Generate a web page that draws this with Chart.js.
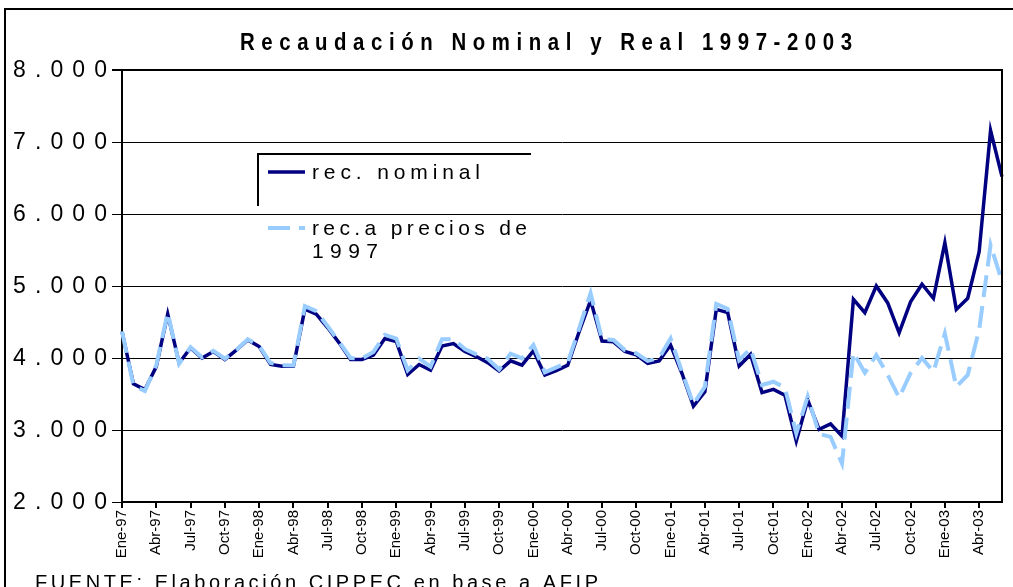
<!DOCTYPE html>
<html>
<head>
<meta charset="utf-8">
<script src="https://cdn.jsdelivr.net/npm/chart.js"></script>
<style>
  body { margin: 0; background: #fff; }
  #wrap { width: 1013px; height: 587px; position: relative; }
</style>
</head>
<body>
<div id="wrap"><canvas id="recChart"></canvas></div>
<script>
'use strict';

// meses y años del eje x
const meses = ['Ene', 'Feb', 'Mar', 'Abr', 'May', 'Jun', 'Jul', 'Ago', 'Sep', 'Oct', 'Nov', 'Dic'];
const anios = ['97', '98', '99', '00', '01', '02', '03'];
const categorias = [];
anios.forEach(a => meses.forEach(m => categorias.push(m + '-' + a)));
categorias.length = 78; // Ene-97 .. Jun-03

// recaudación nominal (millones $)
const recNominal = [
    4365, 3640, 3560, 3880, 4610, 3930, 4140, 4000, 4090, 3980, 4110, 4250,
    4160, 3910, 3885, 3885, 4680, 4610, 4420, 4210, 3980, 3980, 4040, 4270,
    4230, 3770, 3910, 3830, 4165, 4200, 4090, 4020, 3935, 3820, 3960, 3900,
    4100, 3765, 3825, 3900, 4365, 4800, 4235, 4225, 4090, 4045, 3925, 3960,
    4180, 3785, 3330, 3530, 4675, 4630, 3890, 4050, 3520, 3565, 3485, 2845,
    3415, 3010, 3085, 2915, 4815, 4630, 5000, 4765, 4350, 4780, 5025, 4830,
    5600, 4675, 4830, 5475, 7160, 6520
];

// recaudación a precios de 1997
const recReal = [
    4370, 3620, 3540, 3900, 4630, 3920, 4150, 4010, 4100, 3990, 4110, 4260,
    4170, 3930, 3900, 3895, 4720, 4650, 4440, 4225, 4000, 3995, 4085, 4320,
    4270, 3830, 3990, 3880, 4260, 4260, 4125, 4050, 3990, 3840, 4060, 3995,
    4180, 3800, 3870, 3935, 4410, 4900, 4265, 4250, 4110, 4065, 3960, 4000,
    4270, 3810, 3360, 3600, 4750, 4680, 3970, 4130, 3625, 3670, 3590, 2950,
    3465, 2945, 2905, 2535, 4075, 3795, 4040, 3765, 3450, 3790, 4000, 3810,
    4340, 3600, 3765, 4390, 5570, 5060
];

const yMin = 2000, yMax = 8000, yPaso = 1000;

const NAVY = '#000080';
const CELESTE = '#99CCFF';
const FUENTE = '"Liberation Sans", Arial, sans-serif';

const fmtMiles = v => v.toLocaleString('de-DE', { minimumFractionDigits: 0 });

// texto con espaciado entre letras para llegar a un ancho dado
function textoEspaciado(ctx, texto, x, y, ancho, align) {
    const chars = Array.from(texto);
    const anchos = chars.map(c => ctx.measureText(c).width);
    const base = anchos.reduce((s, w) => s + w, 0);
    const ls = chars.length > 1 ? (ancho - base) / (chars.length - 1) : 0;
    let cx = align === 'right' ? x - ancho : align === 'center' ? x - ancho / 2 : x;
    ctx.textAlign = 'left';
    chars.forEach((c, i) => {
        ctx.fillText(c, cx, y);
        cx += anchos[i] + ls;
    });
}

// marco, títulos, leyenda y etiquetas del eje y
const decoracion = {
    id: 'decoracion',
    afterDraw(chart) {
        const { ctx, chartArea: a, scales } = chart;
        ctx.save();
        ctx.strokeStyle = '#000';
        ctx.fillStyle = '#000';

        // marco exterior
        ctx.lineWidth = 2;
        ctx.beginPath();
        ctx.moveTo(5, 600);
        ctx.lineTo(5, 9);
        ctx.lineTo(1020, 9);
        ctx.stroke();

        // borde derecho del área
        ctx.beginPath();
        ctx.moveTo(a.right, a.top - 1);
        ctx.lineTo(a.right, a.bottom + 1);
        ctx.stroke();

        // título (letras algo más angostas y altas)
        ctx.textBaseline = 'middle';
        ctx.font = 'bold 24px ' + FUENTE;
        ctx.save();
        ctx.scale(0.85, 1);
        textoEspaciado(ctx, 'Recaudación Nominal y Real 1997-2003', 546 / 0.85, 43, 612 / 0.85, 'center');
        ctx.restore();

        // etiquetas eje y
        ctx.font = '23px ' + FUENTE;
        scales.y.ticks.forEach(t => {
            const y = scales.y.getPixelForValue(t.value);
            textoEspaciado(ctx, fmtMiles(t.value), 107, y + 1, 94, 'right');
        });

        // leyenda
        ctx.lineWidth = 2;
        ctx.beginPath();
        ctx.moveTo(258, 206);
        ctx.lineTo(258, 154);
        ctx.lineTo(531, 154);
        ctx.stroke();

        ctx.lineWidth = 3.5;
        ctx.strokeStyle = NAVY;
        ctx.beginPath();
        ctx.moveTo(268, 172);
        ctx.lineTo(305, 172);
        ctx.stroke();

        ctx.lineWidth = 4;
        ctx.strokeStyle = CELESTE;
        ctx.setLineDash([22, 9]);
        ctx.beginPath();
        ctx.moveTo(268, 228);
        ctx.lineTo(305, 228);
        ctx.stroke();
        ctx.setLineDash([]);

        ctx.font = '21px ' + FUENTE;
        textoEspaciado(ctx, 'rec. nominal', 312, 173, 168, 'left');
        textoEspaciado(ctx, 'rec.a precios de', 312, 229, 215, 'left');
        textoEspaciado(ctx, '1997', 312, 252, 66, 'left');

        // fuente
        ctx.font = '20px ' + FUENTE;
        ctx.textBaseline = 'top';
        textoEspaciado(ctx, 'FUENTE: Elaboración CIPPEC en base a AFIP', 35, 573, 563, 'left');

        ctx.restore();
    }
};

const grafico = new Chart(document.getElementById('recChart'), {
    type: 'line',
    data: {
        labels: categorias,
        datasets: [{
            label: 'rec.a precios de 1997',
            data: recReal,
            borderColor: CELESTE,
            borderWidth: 4,
            borderDash: [22, 9],
            pointRadius: 0,
            tension: 0,
            order: 1
        }, {
            label: 'rec. nominal',
            data: recNominal,
            borderColor: NAVY,
            borderWidth: 3.5,
            pointRadius: 0,
            tension: 0,
            order: 2
        }]
    },
    options: {
        responsive: true,
        maintainAspectRatio: false,
        animation: false,
        layout: {
            padding: { top: 70, right: 11, left: 0, bottom: 0 }
        },
        plugins: {
            legend: { display: false },
            title: { display: false },
            tooltip: { enabled: false }
        },
        scales: {
            x: {
                offset: false,
                afterFit: s => {
                    s.height = 85;
                    s.paddingLeft = 0;
                    s.paddingRight = 0;
                },
                grid: {
                    offset: false,
                    drawOnChartArea: false,
                    drawTicks: true,
                    tickLength: 6,
                    lineWidth: 2,
                    color: c => (c.index % 3 === 0 ? '#000' : 'rgba(0,0,0,0)')
                },
                border: { display: true, color: '#000', width: 2 },
                ticks: {
                    autoSkip: false,
                    minRotation: 90,
                    maxRotation: 90,
                    padding: 2,
                    color: '#000',
                    font: { family: FUENTE, size: 15 },
                    callback: function (val, idx) {
                        return idx % 3 === 0 ? this.getLabelForValue(val) : '';
                    }
                }
            },
            y: {
                min: yMin,
                max: yMax,
                afterFit: s => { s.width = 122; },
                grid: {
                    color: '#000',
                    lineWidth: c => (c.tick && (c.tick.value === yMax) ? 2 : 1),
                    drawTicks: true,
                    tickLength: 10
                },
                border: { display: true, color: '#000', width: 2 },
                ticks: {
                    display: false,
                    stepSize: yPaso
                }
            }
        }
    },
    plugins: [decoracion]
});
</script>
</body>
</html>
